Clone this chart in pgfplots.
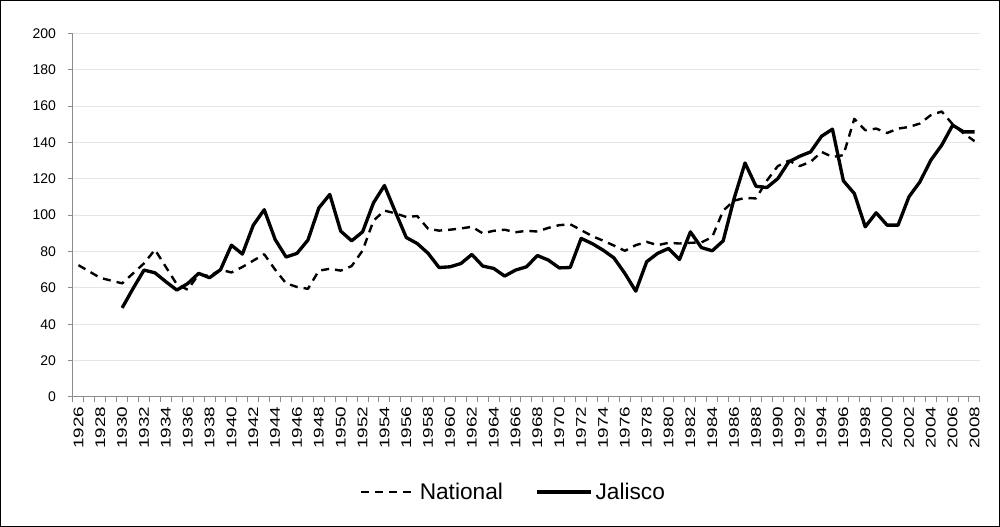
\documentclass[border=0pt]{standalone}
\usepackage{pgfplots}
\pgfplotsset{compat=1.18}
\usepackage{fontspec}
\setmainfont{Liberation Sans}
\definecolor{axgray}{HTML}{8C8C8C}
\definecolor{gridgray}{HTML}{E6E6E6}
\begin{document}
\begin{tikzpicture}
\useasboundingbox (0,0) rectangle (750pt,395.25pt);
\draw[line width=0.75pt] (0.375pt,0.375pt) rectangle (749.625pt,394.875pt);
\begin{axis}[
  at={(54.75pt,97.5pt)}, anchor=south west,
  scale only axis, width=680.25pt, height=272.75pt,
  xmin=1925.5, xmax=2008.5, ymin=0, ymax=200,
  axis x line*=bottom, axis y line*=left,
  axis line style={draw=axgray, line width=0.75pt},
  ytick={0,20,...,200},
  xtick={1926,1928,...,2008},
  minor xtick={1925.5,1926.5,...,2008.5},
  tick align=outside,
  major tick length=3.75pt, minor tick length=3.75pt,
  tick style={draw=axgray, line width=0.75pt},
  major x tick style={draw opacity=0},
  ymajorgrids,
  major grid style={draw=gridgray, line width=0.75pt},
  yticklabel style={font=\fontsize{10.5}{12}\selectfont, xshift=-5.5pt, /pgf/number format/assume math mode=true},
  xticklabel style={rotate=90, anchor=east, font=\fontsize{10.5}{12}\selectfont},
  xticklabel={\scalebox{1.35}[1]{\pgfmathprintnumber[assume math mode=true,1000 sep={},fixed,precision=0]{\tick}}},
  legend style={at={(0.486,-0.261)}, anchor=center, draw=none, fill=none,
    legend columns=2, font=\fontsize{17}{19}\selectfont,
    /tikz/every even column/.append style={column sep=22pt}},
  legend image code/.code={\draw[#1] (0pt,0pt) -- (41pt,0pt);},
  line join=round,
]
\addplot[black, line width=1.8pt, dash pattern=on 6pt off 4.5pt] coordinates {
(1926,72.5) (1927,69) (1928,65.5) (1929,64) (1930,62.5) (1931,68) (1932,73.5) (1933,81)
(1934,71.5) (1935,62) (1936,59) (1937,67.5) (1938,66.5) (1939,70) (1940,68.5) (1941,71.5)
(1942,75) (1943,78.5) (1944,70) (1945,62.5) (1946,60.5) (1947,59.5) (1948,69.5) (1949,70.5)
(1950,69.5) (1951,72) (1952,80.5) (1953,97) (1954,102.5) (1955,101) (1956,99) (1957,99.5)
(1958,92.5) (1959,91.5) (1960,92) (1961,92.7) (1962,93.6) (1963,90) (1964,91.4) (1965,92)
(1966,90.6) (1967,91.4) (1968,91) (1969,93) (1970,94.5) (1971,95) (1972,91.8) (1973,88.5)
(1974,86) (1975,83.3) (1976,80.4) (1977,83.5) (1978,85.3) (1979,83.5) (1980,84.8) (1981,84.4)
(1982,84.8) (1983,85) (1984,88) (1985,102.5) (1986,108) (1987,109.5) (1988,109.2) (1989,119)
(1990,127) (1991,130) (1992,127) (1993,129.3) (1994,134.8) (1995,132) (1996,133) (1997,153)
(1998,146.7) (1999,147.6) (2000,145.2) (2001,147.6) (2002,148.5) (2003,150.4) (2004,155)
(2005,157) (2006,150) (2007,145) (2008,140.7)
};
\addlegendentry{National}
\addplot[black, line width=2.5pt] coordinates {
(1930,49) (1931,59.7) (1932,69.8) (1933,68.3) (1934,63.4) (1935,58.8) (1936,62.4) (1937,68)
(1938,65.6) (1939,70) (1940,83.5) (1941,78.6) (1942,94.5) (1943,103) (1944,86.6) (1945,77)
(1946,79) (1947,86.3) (1948,104) (1949,111.4) (1950,91.2) (1951,85.9) (1952,90.8) (1953,106.8)
(1954,116.3) (1955,101.8) (1956,87.7) (1957,84.4) (1958,79) (1959,71.2) (1960,71.6) (1961,73.4)
(1962,78.4) (1963,72) (1964,70.7) (1965,66.5) (1966,69.8) (1967,71.6) (1968,77.8) (1969,75.3)
(1970,71) (1971,71.2) (1972,87.2) (1973,84.4) (1974,80.8) (1975,76.5) (1976,68) (1977,58.2)
(1978,74.4) (1979,79) (1980,81.7) (1981,75.6) (1982,90.8) (1983,82.2) (1984,80.4) (1985,85.9)
(1986,109.2) (1987,128.7) (1988,115.9) (1989,115.2) (1990,120.1) (1991,129.3) (1992,132.4)
(1993,134.8) (1994,143.4) (1995,147.3) (1996,118.9) (1997,111.9) (1998,93.6) (1999,101.3)
(2000,94.5) (2001,94.5) (2002,110.1) (2003,118.3) (2004,130.2) (2005,138.5) (2006,149.5)
(2007,145.8) (2008,145.8)
};
\addlegendentry{Jalisco}
\end{axis}
\end{tikzpicture}
\end{document}
